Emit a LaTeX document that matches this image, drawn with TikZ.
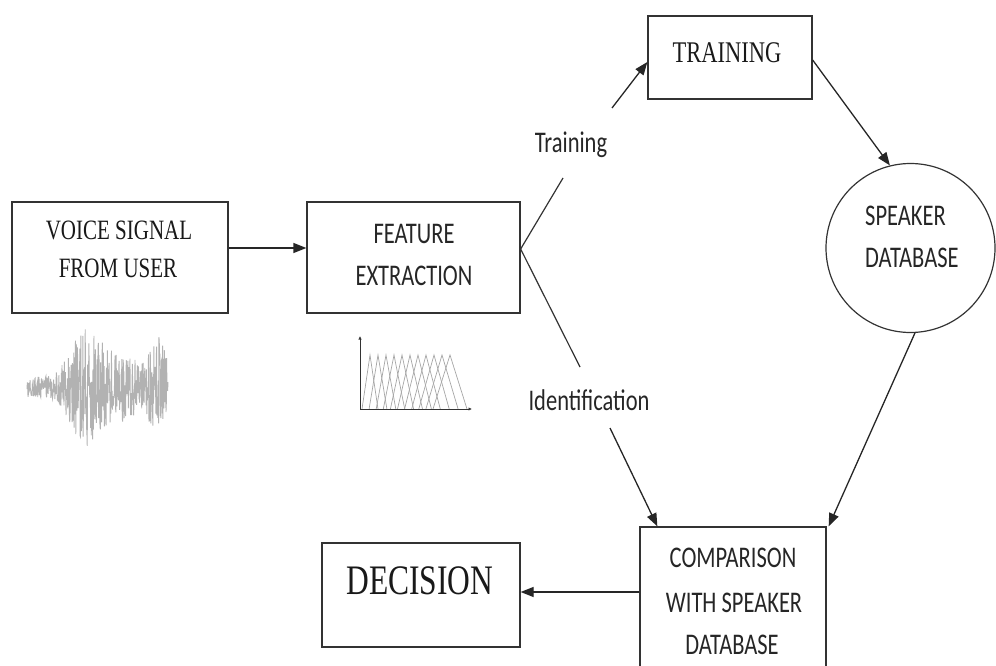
\documentclass[tikz,border=0pt]{standalone}
\usepackage{fontspec}
\usetikzlibrary{arrows.meta,calc}
\newfontfamily\serifx[FakeStretch=0.75]{Liberation Serif}
\newfontfamily\calx[FakeStretch=0.75]{Carlito}
\begin{document}
\begin{tikzpicture}[x=1pt,y=-1pt,
 box/.style={draw=black!80,line width=1.3pt,rectangle,inner sep=0pt},
 arr/.style={draw=black!85,line width=1.3pt,-{Triangle[length=13pt,width=10pt]}},
 ln/.style={draw=black!80,line width=1.2pt},
 ser/.style={font=\serifx\fontsize{28}{34}\selectfont, text=black!90, anchor=base, inner sep=0pt},
 cal/.style={font=\calx\fontsize{30}{36}\selectfont, text=black!85, anchor=base, inner sep=0pt},
 declare function={env(\t)=10+45*exp(-((\t-85)/20)*((\t-85)/20))+25*exp(-((\t-120)/25)*((\t-120)/25))+40*exp(-((\t-158)/10)*((\t-158)/10));}
]
\useasboundingbox (0,0) rectangle (996,666);
\clip (0,0) rectangle (996,666);

% boxes
\node[box,minimum width=216pt,minimum height=111pt] (voice) at (120,257.5) {};
\node[box,minimum width=213pt,minimum height=111pt] (feat) at (413.5,257.5) {};
\node[box,minimum width=164pt,minimum height=83pt] (train) at (730,57.5) {};
\node[draw=black!80,line width=1.2pt,circle,minimum size=169pt,inner sep=0pt] (db) at (910.5,248) {};
\node[box,minimum width=186pt,minimum height=150pt] (cmp) at (733,602) {};
\node[box,minimum width=198pt,minimum height=104pt] (dec) at (421,595) {};

% texts
\node[ser] (t1) at (119,239) {VOICE SIGNAL};
\node[ser] (t2) at (118,277) {FROM USER};
\node[ser,font=\serifx\fontsize{30}{36}\selectfont] (t3) at (727,63) {TRAINING};
\node[ser,font=\serifx\fontsize{42}{48}\selectfont] (t4) at (420,594) {DECISION};
\node[cal] (t5) at (414,243) {FEATURE};
\node[cal] (t6) at (414,285) {EXTRACTION};
\node[cal,anchor=base west] (t7) at (865,225) {SPEAKER};
\node[cal,anchor=base west] (t8) at (865,267) {DATABASE};
\node[cal] (t9) at (733,567) {COMPARISON};
\node[cal] (t10) at (734,612) {WITH SPEAKER};
\node[cal] (t11) at (732,654) {DATABASE};
\node[cal] (lt) at (571,153) {Training};
\node[cal] (li) at (589,410) {Identification};

% connectors
\draw[arr] ([yshift=9.5pt]voice.east) -- ([yshift=9.5pt]feat.west);
\coordinate (split) at ([yshift=8.5pt]feat.east);
\coordinate (tA) at (563,178);
\coordinate (tB) at (612,108);
\draw[ln] (split) -- (tA);
\draw[arr] (tB) -- ([yshift=-4.5pt]train.west);
\coordinate (iA) at (580,367);
\coordinate (iB) at (610,428);
\draw[ln] (split) -- (iA);
\draw[arr] (iB) -- ([xshift=18pt]cmp.north west);
\draw[arr] ([yshift=-2.5pt]train.east) -- (db.104);
\draw[arr] (db.-87) -- ([xshift=2pt]cmp.north east);
\coordinate (de) at ([yshift=3pt]dec.east);
\draw[arr] (cmp.west |- de) -- (de);

% waveform
\pgfmathsetseed{7}
\draw[gray!60,line width=0.9pt] plot[domain=27:168,samples=420] (\x,{387+env(\x)*rand});

% mel filterbank
\coordinate (mo) at (360,409);
\foreach \k in {0,...,10}{
  \pgfmathsetmacro\p{370+8*\k}
  \pgfmathsetmacro\h{8+0.9*\k}
  \draw[gray!70,line width=0.7pt] (\p-\h,409) -- (\p,355) -- (\p+\h,409);
}
\draw[black!80,line width=1pt,-{Latex[length=3.5pt,width=3.5pt]}] (mo) -- (360,336);
\draw[black!80,line width=1pt,-{Latex[length=3.5pt,width=3.5pt]}] (mo) -- (472,409);
\end{tikzpicture}
\end{document}
